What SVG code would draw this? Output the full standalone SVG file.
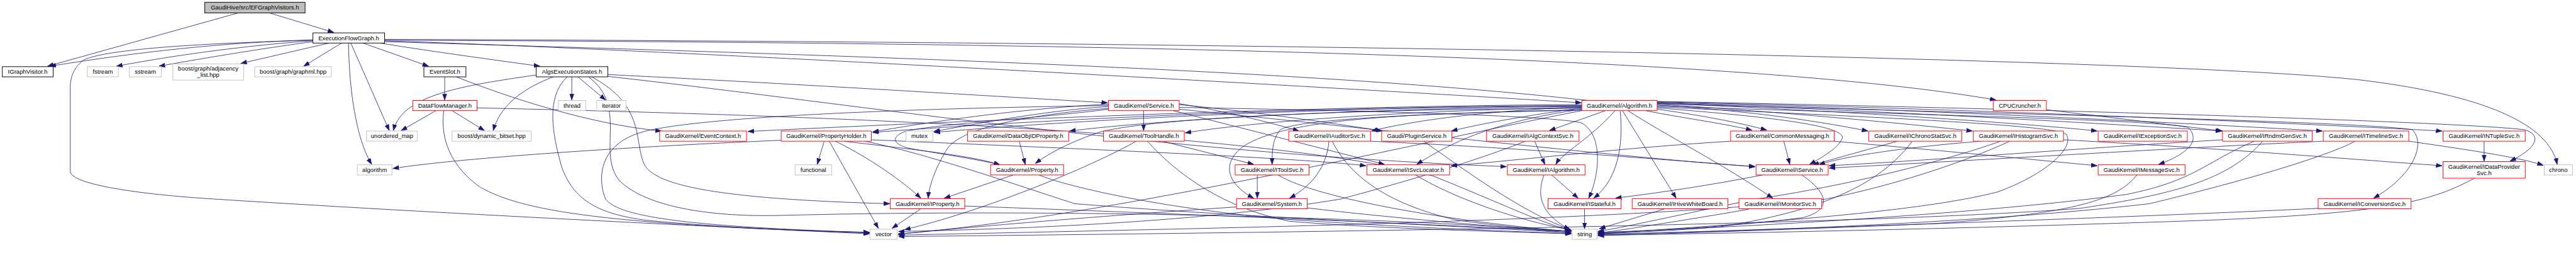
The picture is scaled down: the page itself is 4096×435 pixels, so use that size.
<svg xmlns="http://www.w3.org/2000/svg" width="4096" height="435" viewBox="0 0 4096 435">
<defs>
<style>
.nd rect{fill:#ffffff;stroke-width:1.3}
.red rect{stroke:#ff0000}
.blk rect{stroke:#000000}
.gry rect{stroke:#bfbfbf}
.top rect{fill:#bfbfbf;stroke:#000000}
.nd text{font-family:"Liberation Sans",Arial,Helvetica,sans-serif;font-size:13px;fill:#000000;text-anchor:middle}
#edges path{fill:none;stroke:#191970;stroke-width:1.1}
</style>
<marker id="a" markerUnits="userSpaceOnUse" markerWidth="14" markerHeight="10" refX="13" refY="5" orient="auto">
<path d="M0,0.5 L13,5 L0,9.5 z" fill="#191970" stroke="#191970" stroke-width="1"/>
</marker>
</defs>
<rect x="0" y="0" width="4096" height="435" fill="#ffffff"/>
<g transform="scale(0.735)">
<g id="edges" marker-end="url(#a)">
<path d="M515,28 L103,143"/>
<path d="M583,28 L722,70"/>
<path d="M677,86 C480,92 300,112 108,143"/>
<path d="M677,87 C450,93 230,105 180,130 C158,148 152,168 152,190 L152,370 C152,398 300,420 465,430 C900,458 1500,488 1881,505"/>
<path d="M677,88 C560,96 400,115 252,143"/>
<path d="M677,90 C600,100 460,122 344,143"/>
<path d="M712,93 L521,137"/>
<path d="M739,93 L657,143"/>
<path d="M754,93 C755,190 770,300 804,355"/>
<path d="M759,93 L842,282"/>
<path d="M785,93 L927,143"/>
<path d="M822,93 C900,106 1050,127 1168,143"/>
<path d="M832,88 C1500,110 2900,190 3421,222"/>
<path d="M832,90 C2000,125 3400,165 3822,281"/>
<path d="M832,87 C2500,92 3800,125 4318,216"/>
<path d="M832,85 C3000,92 4700,130 5100,172 C5380,205 5515,270 5532,355"/>
<path d="M962,166 L962,216"/>
<path d="M987,166 C1150,230 1310,272 1431,283"/>
<path d="M1197,166 C1120,195 1080,235 1067,282"/>
<path d="M1237,166 L1237,216"/>
<path d="M1250,166 L1310,216"/>
<path d="M1160,162 C1000,185 870,205 851,282"/>
<path d="M1227,166 C1180,210 1195,290 1215,360 C1240,430 1290,462 1400,476 C1600,495 1800,500 1881,502"/>
<path d="M1280,166 C1400,230 1370,310 1395,357 C1420,400 1550,430 1925,440"/>
<path d="M1273,166 C1360,230 1290,330 1340,390 C1400,450 1550,470 1700,465 C2300,450 3000,470 3399,500"/>
<path d="M1315,165 C1900,230 2500,330 3259,360"/>
<path d="M1315,161 C1700,180 2100,205 2396,222"/>
<path d="M943,239 L868,282"/>
<path d="M978,239 L1048,282"/>
<path d="M960,239 C952,300 975,360 1040,405 C1130,455 1300,485 1881,503"/>
<path d="M1032,233 C1700,248 2700,280 3100,380 C3250,440 3330,480 3399,498"/>
<path d="M2474,239 L2474,282"/>
<path d="M2398,225 C2200,235 2000,265 1888,285"/>
<path d="M2398,230 C2250,240 2100,270 2020,284"/>
<path d="M2398,234 C2200,250 2080,280 2050,320 C2025,360 2010,400 2008,428"/>
<path d="M2398,236 C2250,255 2000,270 1955,285 C1925,298 1935,312 1965,320 C2050,335 2120,345 2163,356"/>
<path d="M2398,228 C1900,235 1500,255 1390,285 C1300,310 1290,380 1310,430 C1340,470 1500,490 1881,502"/>
<path d="M2551,224 C2650,240 2750,265 2810,283"/>
<path d="M2551,226 C2700,240 2880,265 2990,283"/>
<path d="M2551,236 C2900,270 3500,340 3797,360"/>
<path d="M2538,239 L2995,355"/>
<path d="M2551,232 C3000,240 3350,250 3420,265 C3470,290 3460,380 3437,428"/>
<path d="M3473,239 L3352,282"/>
<path d="M3494,239 C3440,300 3380,330 3366,355"/>
<path d="M3505,239 C3510,290 3510,380 3448,428"/>
<path d="M3510,239 L3626,428"/>
<path d="M3522,239 C3600,290 3720,350 3835,428"/>
<path d="M3560,239 C3640,255 3720,265 3790,281"/>
<path d="M3585,227 C3800,240 3950,265 4041,283"/>
<path d="M3585,225 C3900,245 4150,270 4267,283"/>
<path d="M3585,223 C4000,240 4400,268 4537,283"/>
<path d="M3585,222 C4100,240 4600,270 4806,283"/>
<path d="M3585,221 C4200,238 4800,270 5024,283"/>
<path d="M3585,220 C4300,236 5000,268 5283,283"/>
<path d="M3585,219 C4400,235 5300,262 5460,280 C5500,290 5490,320 5430,348"/>
<path d="M3585,224 C4300,245 5100,262 5218,280 C5250,310 5220,380 5135,428"/>
<path d="M3585,229 C4200,250 4650,258 4733,275 C4760,300 4740,330 4670,355"/>
<path d="M3585,231 C4100,255 4440,270 4470,290 C4490,320 4420,380 4320,415 C4200,445 4000,470 3457,505"/>
<path d="M3585,233 C3800,250 4000,270 3985,300 C3975,320 3950,335 3915,355"/>
<path d="M3422,234 C2900,236 2500,255 2380,285 C2320,305 2270,330 2240,353"/>
<path d="M3422,232 C3000,240 2700,265 2564,287"/>
<path d="M3422,230 C2900,235 2500,260 2314,283"/>
<path d="M3422,229 C2800,232 2300,262 2021,286"/>
<path d="M3422,228 C2800,230 2200,262 1888,286"/>
<path d="M3422,226 C2800,228 1900,270 1618,284"/>
<path d="M3422,239 C3100,300 2400,470 1944,505"/>
<path d="M3422,238 C3050,245 2800,255 2700,310 C2640,345 2650,395 2712,428"/>
<path d="M3422,237 C3050,245 2800,260 2770,280 C2752,300 2752,330 2752,355"/>
<path d="M3422,233 C3300,250 3200,268 3140,283"/>
<path d="M3422,231 C3200,240 3050,262 2967,283"/>
<path d="M3422,236 C3250,260 3150,300 3065,355"/>
<path d="M4427,237 L4808,283"/>
<path d="M1783,305 L1768,355"/>
<path d="M1690,303 C1400,315 1000,340 850,364"/>
<path d="M1794,305 L1900,493"/>
<path d="M1807,305 C1860,330 1940,380 1992,428"/>
<path d="M1825,305 C1950,320 2100,335 2163,356"/>
<path d="M1870,305 C2000,330 2200,400 2325,440 C2700,470 3200,490 3399,503"/>
<path d="M1885,302 C2300,320 2800,340 2955,358"/>
<path d="M2205,305 L2218,355"/>
<path d="M2515,305 L2712,355"/>
<path d="M2458,305 C2380,350 2150,450 1957,496"/>
<path d="M2482,305 C2550,380 2650,450 2790,478 C3000,495 3250,500 3399,505"/>
<path d="M2875,305 C2870,360 2840,400 2790,428"/>
<path d="M2882,305 C2920,380 3000,440 3150,475 C3250,490 3330,495 3399,500"/>
<path d="M2965,305 C3300,320 3600,345 3797,360"/>
<path d="M3080,305 C3200,390 3300,460 3399,497"/>
<path d="M3320,305 L3342,355"/>
<path d="M3300,305 C3200,345 3050,390 2900,430 C2600,480 2200,495 1944,500"/>
<path d="M3859,305 L3872,355"/>
<path d="M3967,305 C4200,325 4400,345 4537,358"/>
<path d="M3744,305 C3500,320 3300,345 3139,358"/>
<path d="M4105,305 L3922,356"/>
<path d="M4137,305 C4080,380 3980,450 3720,490 C3600,500 3500,503 3457,505"/>
<path d="M4285,305 C4100,320 3980,340 3935,356"/>
<path d="M4328,305 C4200,350 4000,400 3800,430 C3650,460 3520,490 3457,500"/>
<path d="M4348,305 C4250,350 4100,400 3950,430 C3500,480 2500,495 1944,508"/>
<path d="M4464,302 C4800,320 5100,345 5283,358"/>
<path d="M4808,302 C4500,320 4200,345 3957,358"/>
<path d="M4877,305 C4770,350 4750,390 4600,420 C4300,460 3800,490 3457,502"/>
<path d="M4895,305 C4820,390 4700,420 4500,450 C4000,490 2500,505 1944,511"/>
<path d="M5211,305 C5350,325 5450,340 5502,357"/>
<path d="M5026,305 C4700,320 4300,345 3957,363"/>
<path d="M5095,305 C5050,330 4900,380 4650,440 C4300,480 3800,500 3457,506"/>
<path d="M5374,305 L5374,348"/>
<path d="M5353,385 C5250,440 5150,465 4650,480 C4200,495 3700,505 3457,508"/>
<path d="M5015,450 C4600,470 4000,490 3457,507"/>
<path d="M4623,378 C4580,430 4500,460 4185,483 C3900,495 3600,505 3457,509"/>
<path d="M2192,378 L2043,428"/>
<path d="M2248,378 C2300,400 2500,450 2800,475 C3100,495 3300,500 3399,505"/>
<path d="M2720,378 L2720,428"/>
<path d="M2765,378 C2850,430 3150,480 3399,500"/>
<path d="M3062,378 C3150,430 3280,475 3399,497"/>
<path d="M3357,378 L3414,428"/>
<path d="M3340,378 C3325,420 3330,460 3396,496"/>
<path d="M3813,378 C3700,400 3600,415 3495,428"/>
<path d="M3898,378 C3960,420 3960,455 3900,470 C3750,490 3550,500 3457,503"/>
<path d="M3783,452 C3650,475 3520,495 3457,504"/>
<path d="M3428,451 L3428,494"/>
<path d="M3602,451 L3460,494"/>
<path d="M2675,447 C2400,465 2100,490 1943,506"/>
<path d="M2828,449 C3000,470 3250,490 3399,503"/>
<path d="M1992,451 L1930,493"/>
<path d="M2087,445 C2500,460 3000,480 3399,500"/>
</g>
<g id="n0" class="nd top"><rect x="443" y="5" width="217" height="23"/><text x="551.5" y="21">GaudiHive/src/EFGraphVisitors.h</text></g>
<g id="n1" class="nd blk"><rect x="677" y="71" width="155" height="22"/><text x="754.5" y="86.5">ExecutionFlowGraph.h</text></g>
<g id="n2" class="nd blk"><rect x="5" y="144" width="110" height="22"/><text x="60" y="159.5">IGraphVisitor.h</text></g>
<g id="n3" class="nd gry"><rect x="189" y="144" width="67" height="22"/><text x="222.5" y="159.5">fstream</text></g>
<g id="n4" class="nd gry"><rect x="280" y="144" width="69" height="22"/><text x="314.5" y="159.5">sstream</text></g>
<g id="n5" class="nd gry"><rect x="374" y="138" width="153" height="35"/><text x="450.5" y="152.5">boost/graph/adjacency</text><text x="450.5" y="166">_list.hpp</text></g>
<g id="n6" class="nd gry"><rect x="551" y="144" width="166" height="22"/><text x="634" y="159.5">boost/graph/graphml.hpp</text></g>
<g id="n7" class="nd blk"><rect x="917" y="144" width="91" height="22"/><text x="962.5" y="159.5">EventSlot.h</text></g>
<g id="n8" class="nd blk"><rect x="1160" y="144" width="155" height="22"/><text x="1237.5" y="159.5">AlgsExecutionStates.h</text></g>
<g id="n9" class="nd red"><rect x="893" y="217" width="139" height="22"/><text x="962.5" y="232.5">DataFlowManager.h</text></g>
<g id="n10" class="nd gry"><rect x="1208" y="217" width="59" height="22"/><text x="1237.5" y="232.5">thread</text></g>
<g id="n11" class="nd gry"><rect x="1291" y="217" width="63" height="22"/><text x="1322.5" y="232.5">iterator</text></g>
<g id="n12" class="nd red"><rect x="2398" y="217" width="153" height="22"/><text x="2474.5" y="232.5">GaudiKernel/Service.h</text></g>
<g id="n13" class="nd red"><rect x="3422" y="217" width="163" height="22"/><text x="3503.5" y="232.5">GaudiKernel/Algorithm.h</text></g>
<g id="n14" class="nd red"><rect x="4312" y="217" width="115" height="22"/><text x="4369.5" y="232.5">CPUCruncher.h</text></g>
<g id="n15" class="nd gry"><rect x="793" y="283" width="110" height="22"/><text x="848" y="298.5">unordered_map</text></g>
<g id="n16" class="nd gry"><rect x="978" y="283" width="171" height="22"/><text x="1063.5" y="298.5">boost/dynamic_bitset.hpp</text></g>
<g id="n17" class="nd red"><rect x="1427" y="283" width="188" height="22"/><text x="1521" y="298.5">GaudiKernel/EventContext.h</text></g>
<g id="n18" class="nd red"><rect x="1690" y="283" width="195" height="22"/><text x="1787.5" y="298.5">GaudiKernel/PropertyHolder.h</text></g>
<g id="n19" class="nd gry"><rect x="1960" y="283" width="58" height="22"/><text x="1989" y="298.5">mutex</text></g>
<g id="n20" class="nd red"><rect x="2093" y="283" width="219" height="22"/><text x="2202.5" y="298.5">GaudiKernel/DataObjIDProperty.h</text></g>
<g id="n21" class="nd red"><rect x="2387" y="283" width="175" height="22"/><text x="2474.5" y="298.5">GaudiKernel/ToolHandle.h</text></g>
<g id="n22" class="nd red"><rect x="2788" y="283" width="177" height="22"/><text x="2876.5" y="298.5">GaudiKernel/IAuditorSvc.h</text></g>
<g id="n23" class="nd red"><rect x="2989" y="283" width="152" height="22"/><text x="3065" y="298.5">Gaudi/PluginService.h</text></g>
<g id="n24" class="nd red"><rect x="3216" y="283" width="200" height="22"/><text x="3316" y="298.5">GaudiKernel/IAlgContextSvc.h</text></g>
<g id="n25" class="nd red"><rect x="3744" y="283" width="224" height="22"/><text x="3856" y="298.5">GaudiKernel/CommonMessaging.h</text></g>
<g id="n26" class="nd red"><rect x="4043" y="283" width="201" height="22"/><text x="4143.5" y="298.5">GaudiKernel/IChronoStatSvc.h</text></g>
<g id="n27" class="nd red"><rect x="4269" y="283" width="195" height="22"/><text x="4366.5" y="298.5">GaudiKernel/IHistogramSvc.h</text></g>
<g id="n28" class="nd red"><rect x="4539" y="283" width="193" height="22"/><text x="4635.5" y="298.5">GaudiKernel/IExceptionSvc.h</text></g>
<g id="n29" class="nd red"><rect x="4808" y="283" width="194" height="22"/><text x="4905" y="298.5">GaudiKernel/IRndmGenSvc.h</text></g>
<g id="n30" class="nd red"><rect x="5026" y="283" width="185" height="22"/><text x="5118.5" y="298.5">GaudiKernel/ITimelineSvc.h</text></g>
<g id="n31" class="nd red"><rect x="5285" y="283" width="178" height="22"/><text x="5374" y="298.5">GaudiKernel/INTupleSvc.h</text></g>
<g id="n32" class="nd gry"><rect x="773" y="356" width="75" height="22"/><text x="810.5" y="371.5">algorithm</text></g>
<g id="n33" class="nd gry"><rect x="1720" y="356" width="79" height="22"/><text x="1759.5" y="371.5">functional</text></g>
<g id="n34" class="nd red"><rect x="2143" y="356" width="158" height="22"/><text x="2222" y="371.5">GaudiKernel/Property.h</text></g>
<g id="n35" class="nd red"><rect x="2672" y="356" width="160" height="22"/><text x="2752" y="371.5">GaudiKernel/IToolSvc.h</text></g>
<g id="n36" class="nd red"><rect x="2957" y="356" width="179" height="22"/><text x="3046.5" y="371.5">GaudiKernel/ISvcLocator.h</text></g>
<g id="n37" class="nd red"><rect x="3261" y="356" width="168" height="22"/><text x="3345" y="371.5">GaudiKernel/IAlgorithm.h</text></g>
<g id="n38" class="nd red"><rect x="3799" y="356" width="156" height="22"/><text x="3877" y="371.5">GaudiKernel/IService.h</text></g>
<g id="n39" class="nd red"><rect x="4539" y="356" width="188" height="22"/><text x="4633" y="371.5">GaudiKernel/IMessageSvc.h</text></g>
<g id="n40" class="nd red"><rect x="5285" y="349" width="178" height="36"/><text x="5374" y="364">GaudiKernel/IDataProvider</text><text x="5374" y="378">Svc.h</text></g>
<g id="n41" class="nd gry"><rect x="5504" y="356" width="61" height="22"/><text x="5534.5" y="371.5">chrono</text></g>
<g id="n42" class="nd red"><rect x="1926" y="429" width="161" height="22"/><text x="2006.5" y="444.5">GaudiKernel/IProperty.h</text></g>
<g id="n43" class="nd red"><rect x="2675" y="429" width="153" height="22"/><text x="2751.5" y="444.5">GaudiKernel/System.h</text></g>
<g id="n44" class="nd red"><rect x="3349" y="429" width="158" height="22"/><text x="3428" y="444.5">GaudiKernel/IStateful.h</text></g>
<g id="n45" class="nd red"><rect x="3531" y="429" width="207" height="22"/><text x="3634.5" y="444.5">GaudiKernel/IHiveWhiteBoard.h</text></g>
<g id="n46" class="nd red"><rect x="3762" y="429" width="179" height="22"/><text x="3851.5" y="444.5">GaudiKernel/IMonitorSvc.h</text></g>
<g id="n47" class="nd red"><rect x="5015" y="429" width="201" height="22"/><text x="5115.5" y="444.5">GaudiKernel/IConversionSvc.h</text></g>
<g id="n48" class="nd gry"><rect x="1882" y="495" width="59" height="22"/><text x="1911.5" y="510.5">vector</text></g>
<g id="n49" class="nd gry"><rect x="3401" y="495" width="54" height="22"/><text x="3428" y="510.5">string</text></g>
</g>
</svg>
